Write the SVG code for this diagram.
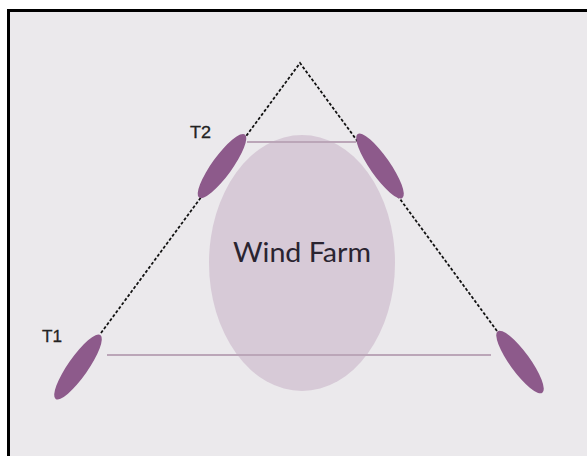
<svg xmlns="http://www.w3.org/2000/svg" width="587" height="456" viewBox="0 0 587 456">
<style>
.blade{fill:#8d5a8b}
.hline{stroke:#bba6b8;stroke-width:2;fill:none}
.dash{stroke:#111;stroke-width:1.8;stroke-dasharray:3 2;fill:none}
.lbl{font-family:"Liberation Sans",Arial,sans-serif;fill:#222;stroke:#222;stroke-width:0.3}
</style>
<rect x="0" y="0" width="587" height="456" fill="#ffffff"/>
<rect x="8.5" y="10.5" width="580" height="447" fill="#ebe9ec" stroke="#000" stroke-width="3"/>
<g id="windfarm">
<ellipse cx="302" cy="263" rx="93" ry="128" fill="#d7cad7"/>
<text x="302" y="262" font-family="Lato,'Liberation Sans',sans-serif" font-size="26" text-anchor="middle" textLength="138" lengthAdjust="spacingAndGlyphs" fill="#2a2430">Wind Farm</text>
</g>
<g id="connectors">
<line class="hline" x1="247" y1="142" x2="356" y2="142"/>
<line class="hline" x1="107" y1="355" x2="491" y2="355"/>
<polyline class="dash" points="101,333 300,63 497,331"/>
</g>
<g id="T2">
<ellipse class="blade" cx="222" cy="166" rx="39" ry="10" transform="rotate(-54 222 166)"/>
<text class="lbl" x="190" y="138" font-size="16.5" textLength="21" lengthAdjust="spacingAndGlyphs">T2</text>
</g>
<g id="T2r">
<ellipse class="blade" cx="380" cy="166" rx="39" ry="10" transform="rotate(55 380 166)"/>
</g>
<g id="T1">
<ellipse class="blade" cx="78" cy="367" rx="39" ry="10" transform="rotate(-55 78 367)"/>
<text class="lbl" x="42" y="342" font-size="16.5" textLength="20" lengthAdjust="spacingAndGlyphs">T1</text>
</g>
<g id="T1r">
<ellipse class="blade" cx="520" cy="362" rx="38" ry="10" transform="rotate(54 520 362)"/>
</g>
</svg>
